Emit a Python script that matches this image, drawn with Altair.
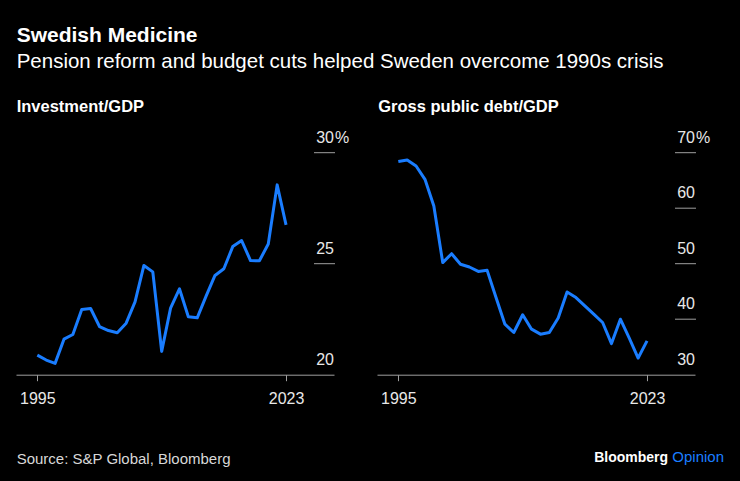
import os
import altair as alt
import pandas as pd

years = list(range(1995, 2024))
investment = [20.88, 20.66, 20.51, 21.60, 21.81, 22.94, 22.98, 22.17, 21.99, 21.89,
              22.32, 23.28, 24.92, 24.63, 21.05, 23.00, 23.87, 22.61, 22.56, 23.54,
              24.47, 24.77, 25.77, 26.04, 25.14, 25.13, 25.89, 28.55, 26.75]
debt = [68.4, 68.7, 67.6, 65.2, 60.4, 50.2, 51.8, 49.9, 49.4, 48.6,
        48.8, 43.9, 39.1, 37.6, 40.8, 38.2, 37.3, 37.6, 40.2, 44.9,
        43.9, 42.4, 40.9, 39.4, 35.6, 40.0, 36.6, 33.0, 36.1]
inv_ticks = [20, 25, 30]
debt_ticks = [30, 40, 50, 60, 70]
x_ticks = [1995, 2023]

title = "Swedish Medicine"
subtitle = "Pension reform and budget cuts helped Sweden overcome 1990s crisis"
panel_titles = ["Investment/GDP", "Gross public debt/GDP"]
source = "Source: S&P Global, Bloomberg"

FONT = "Liberation Sans"
W, H = 318, 222
BLUE = "#1a7dff"
GREY = "#a0a0a0"
LABEL = "#e8e8e8"
XDOM = [1992.6, 2028.4]


def txt(s):
    return pd.DataFrame({"t": [s]})


def panel(values, ticks, ptitle, tx, extra):
    df = pd.DataFrame({"year": years, "value": values})
    yscale = alt.Scale(domain=[ticks[0], ticks[-1]], nice=False, zero=False)
    xscale = alt.Scale(domain=XDOM, nice=False, zero=False)
    line = alt.Chart(df).mark_line(color=BLUE, strokeWidth=3, strokeJoin="round").encode(
        x=alt.X("year:Q", scale=xscale,
                axis=alt.Axis(values=x_ticks, format="d", title=None, grid=False,
                              domainColor=GREY, tickColor=GREY, tickSize=6,
                              labelFontSize=16, labelColor=LABEL, labelFont=FONT,
                              labelPadding=10, labelFlush=False)),
        y=alt.Y("value:Q", scale=yscale, axis=None),
    )
    tdf = pd.DataFrame({"value": ticks, "label": [str(t) for t in ticks]})
    grid = alt.Chart(tdf[tdf["value"] > ticks[0]]).mark_rule(color=GREY, strokeWidth=1).encode(
        y=alt.Y("value:Q", scale=yscale, axis=None),
        x=alt.value(W - 20), x2=alt.value(W + 1),
    )
    ylab = alt.Chart(tdf).mark_text(align="right", baseline="alphabetic", dy=-10,
                                    fontSize=16, color=LABEL, font=FONT).encode(
        y=alt.Y("value:Q", scale=yscale, axis=None),
        x=alt.value(W), text="label:N",
    )
    pct = alt.Chart(tdf[tdf["value"] == ticks[-1]]).mark_text(
        align="left", baseline="alphabetic", dy=-10, dx=1,
        fontSize=16, color=LABEL, font=FONT).encode(
        y=alt.Y("value:Q", scale=yscale, axis=None),
        x=alt.value(W), text=alt.value("%"),
    )
    pt = alt.Chart(txt(ptitle)).mark_text(align="left", baseline="alphabetic",
                                          fontSize=16.5, fontWeight="bold", color="white",
                                          font=FONT).encode(
        x=alt.value(tx), y=alt.value(-40.3), text="t:N")
    return alt.layer(line, grid, ylab, pct, pt, *extra).properties(width=W, height=H)


left_extra = [
    alt.Chart(txt(title)).mark_text(align="left", baseline="alphabetic", fontSize=21,
                                    fontWeight="bold", color="white", font=FONT).encode(
        x=alt.value(0.7), y=alt.value(-110.3), text="t:N"),
    alt.Chart(txt(subtitle)).mark_text(align="left", baseline="alphabetic", fontSize=20.5,
                                       color="white", font=FONT).encode(
        x=alt.value(0.7), y=alt.value(-84.7), text="t:N"),
    alt.Chart(txt(source)).mark_text(align="left", baseline="alphabetic", fontSize=15,
                                     color="#d8d8d8", font=FONT).encode(
        x=alt.value(0.7), y=alt.value(311.3), text="t:N"),
]
right_extra = [
    alt.Chart(txt("Opinion")).mark_text(align="right", baseline="alphabetic", fontSize=15,
                                        color=BLUE, font=FONT).encode(
        x=alt.value(347), y=alt.value(309.7), text="t:N"),
    alt.Chart(txt("Bloomberg")).mark_text(align="right", baseline="alphabetic", fontSize=14,
                                          fontWeight="bold", color="white", font=FONT).encode(
        x=alt.value(291), y=alt.value(309.7), text="t:N"),
]

left = panel(investment, inv_ticks, panel_titles[0], 0.7, left_extra)
right = panel(debt, debt_ticks, panel_titles[1], 1.3, right_extra)

chart = alt.hconcat(left, right, spacing=43, bounds="flush").properties(
    padding={"left": 8, "top": 16.7, "right": 8, "bottom": 8}
).configure(background="black").configure_view(stroke=None)

chart.save("out.html", embed_options={"renderer": "svg", "actions": False})

# black page background so the 8px page margin matches the chart
if os.path.exists("out.html"):
    with open("out.html", encoding="utf-8") as f:
        html = f.read()
    style = "<style>html,body{background:#000;}</style>"
    if "<head>" in html:
        html = html.replace("<head>", "<head>" + style, 1)
    else:
        html = style + html
    with open("out.html", "w", encoding="utf-8") as f:
        f.write(html)
